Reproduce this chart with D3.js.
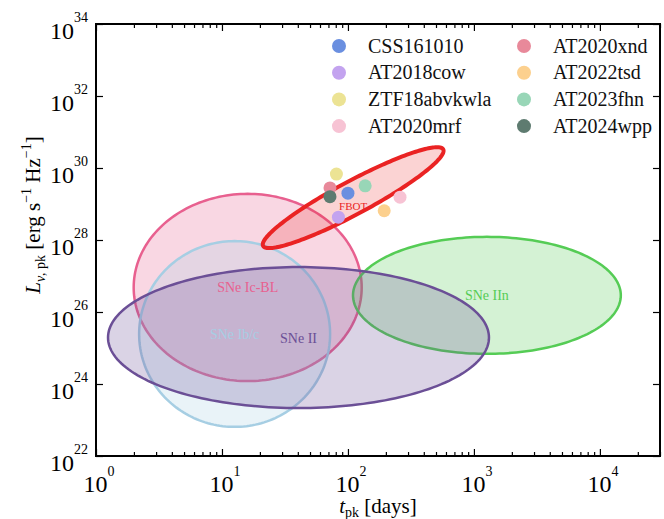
<!DOCTYPE html>
<html>
<head>
<meta charset="utf-8">
<script src="https://cdn.jsdelivr.net/npm/d3@7"></script>
<style>
body { margin: 0; background: #fff; }
svg { display: block; }
</style>
</head>
<body>
<div id="chart"></div>
<script>
// radio-bright FBOTs: peak time [days] and peak luminosity [erg/s/Hz]
var names = ["CSS161010", "AT2018cow", "ZTF18abvkwla", "AT2020mrf",
             "AT2020xnd", "AT2022tsd", "AT2023fhn", "AT2024wpp"];
var tpk = [100, 84, 81, 259, 72, 194, 137, 72];
var lpk = [2.0e29, 4.3e28, 6.8e29, 1.55e29, 2.8e29, 6.5e28, 3.2e29, 1.6e29];
var colors = ["#6a8fe0", "#c3a3ef", "#ece394", "#f7c3d4",
              "#e8899a", "#fcd08e", "#98d6b7", "#5e7b70"];

// population regions (ellipses in log-log space)
var popNames = ["SNe Ic-BL", "SNe Ib/c", "SNe IIn", "SNe II", "FBOT"];
var popT = [16, 12.6, 1268, 40.5, 110];
var popL = [4.8e26, 2.45e25, 2.9e26, 1.95e25, 1.5e29];
var popWidth = [0.905, 0.758, 1.063, 1.512, 1.556];   // semi-axis, dex
var popHeight = [2.6, 2.58, 1.625, 1.958, 0.24];      // semi-axis, dex
var popAngle = [0, 0, 0, 0, 63.9];                    // degrees
var popColors = ["#e8608f", "#a6cee3", "#55cc55", "#6b4f96", "#ea2323"];

var xTicks = [1, 10, 100, 1000, 10000];
var yTicks = [1e22, 1e24, 1e26, 1e28, 1e30, 1e32, 1e34];

var W = 664, H = 519;
var margin = {left: 96, top: 24, right: 4, bottom: 63};
var w = W - margin.left - margin.right,
    h = H - margin.top - margin.bottom;

var svg = d3.select("#chart").append("svg")
    .attr("width", W)
    .attr("height", H);
var g = svg.append("g")
    .attr("transform", "translate(" + margin.left + "," + margin.top + ")");

var x = d3.scaleLog().domain([1, 3e4]).range([0, w]);
var y = d3.scaleLog().domain([1e22, 1e34]).range([h, 0]);

// ellipses
function ellipsePath(i) {
    var cx = Math.log10(popT[i]), cy = Math.log10(popL[i]);
    var a = popWidth[i], b = popHeight[i];
    var phi = popAngle[i] * Math.PI / 180;
    var pts = d3.range(0, 201).map(function (k) {
        var th = k / 200 * 2 * Math.PI;
        var lx = cx + a * Math.cos(th) * Math.cos(phi) - b * Math.sin(th) * Math.sin(phi);
        var ly = cy + a * Math.cos(th) * Math.sin(phi) + b * Math.sin(th) * Math.cos(phi);
        return [x(Math.pow(10, lx)), y(Math.pow(10, ly))];
    });
    return d3.line()(pts) + "Z";
}

g.selectAll("path.pop")
    .data(popNames)
    .enter()
    .append("path")
    .attr("class", "pop")
    .attr("d", function (d, i) { return ellipsePath(i); })
    .attr("fill", function (d, i) { return popColors[i]; })
    .attr("fill-opacity", function (d, i) { return i == 4 ? 0.2 : 0.25; })
    .attr("stroke", function (d, i) { return popColors[i]; })
    .attr("stroke-width", function (d, i) { return i == 4 ? 4 : 2.5; });

g.selectAll("text.poplabel")
    .data(popNames)
    .enter()
    .append("text")
    .attr("class", "poplabel")
    .text(function (d) { return d; })
    .attr("text-anchor", "middle")
    .attr("x", function (d, i) { return x(popT[i]); })
    .attr("y", function (d, i) { return y(popL[i]) + (i == 4 ? 12 : 5); })
    .attr("font-size", function (d, i) { return i == 4 ? "11px" : "14px"; })
    .attr("fill", function (d, i) { return popColors[i]; });

// points
g.selectAll("circle.src")
    .data(names)
    .enter()
    .append("circle")
    .attr("class", "src")
    .attr("cx", function (d, i) { return x(tpk[i]); })
    .attr("cy", function (d, i) { return y(lpk[i]); })
    .attr("r", 6.5)
    .attr("fill", function (d, i) { return colors[i]; });

// ticks, pointing inwards on all sides
var xMinor = [];
[1, 10, 100, 1000, 10000].forEach(function (p) {
    for (var k = 2; k <= 9; k++) if (p * k <= 3e4) xMinor.push(p * k);
});

function tickAxis(axis, vals, size, tr) {
    var a = g.append("g").attr("transform", tr)
        .call(axis.tickValues(vals).tickSize(size).tickFormat(""));
    a.select(".domain").remove();
    a.selectAll("line").attr("stroke", "#000").attr("stroke-width", 1.2);
}
tickAxis(d3.axisBottom(x), xTicks, -7, "translate(0," + h + ")");
tickAxis(d3.axisBottom(x), xMinor, -4, "translate(0," + h + ")");
tickAxis(d3.axisTop(x), xTicks, -7, "translate(0,0)");
tickAxis(d3.axisTop(x), xMinor, -4, "translate(0,0)");
tickAxis(d3.axisLeft(y), yTicks, -7, "translate(0,0)");
tickAxis(d3.axisRight(y), yTicks, -7, "translate(" + w + ",0)");

g.append("rect")
    .attr("width", w)
    .attr("height", h)
    .attr("fill", "none")
    .attr("stroke", "#000")
    .attr("stroke-width", 2);

// tick labels as 10^n
g.selectAll("text.xlab")
    .data(xTicks)
    .enter()
    .append("text")
    .attr("class", "xlab")
    .attr("text-anchor", "middle")
    .attr("x", function (d) { return x(d) + 3; })
    .attr("y", h + 36)
    .attr("font-size", "24px")
    .each(function (d) {
        var t = d3.select(this);
        t.append("tspan").text("10");
        t.append("tspan").attr("dy", -16).attr("font-size", "14px")
            .text(Math.round(Math.log10(d)));
    });

g.selectAll("text.ylab")
    .data(yTicks)
    .enter()
    .append("text")
    .attr("class", "ylab")
    .attr("text-anchor", "end")
    .attr("x", -8)
    .attr("y", function (d) { return y(d) + 15; })
    .attr("font-size", "24px")
    .each(function (d) {
        var t = d3.select(this);
        t.append("tspan").text("10");
        t.append("tspan").attr("dy", -17).attr("font-size", "14px")
            .text(Math.round(Math.log10(d)));
    });

// axis titles
var xt = svg.append("text")
    .attr("text-anchor", "middle")
    .attr("x", margin.left + w / 2)
    .attr("y", 513)
    .attr("font-size", "21px");
xt.append("tspan").attr("font-style", "italic").text("t");
xt.append("tspan").attr("font-size", "14px").attr("dy", 4).text("pk");
xt.append("tspan").attr("dy", -4).text(" [days]");

var yt = svg.append("text")
    .attr("text-anchor", "middle")
    .attr("transform", "translate(40,215) rotate(-90)")
    .attr("font-size", "21px");
yt.append("tspan").attr("font-style", "italic").text("L");
yt.append("tspan").attr("font-size", "14px").attr("dy", 5).attr("font-style", "italic").text("\u03bd");
yt.append("tspan").attr("font-size", "14px").text(", pk");
yt.append("tspan").attr("dy", -5).text(" [erg s");
yt.append("tspan").attr("font-size", "14px").attr("dy", -9).text("\u22121");
yt.append("tspan").attr("dy", 9).text(" Hz");
yt.append("tspan").attr("font-size", "14px").attr("dy", -9).text("\u22121");
yt.append("tspan").attr("dy", 9).text("]");

// legend
var leg = g.append("g");
var legItems = leg.selectAll("g")
    .data(names)
    .enter()
    .append("g")
    .attr("transform", function (d, i) {
        var col = Math.floor(i / 4), row = i % 4;
        return "translate(" + (243 + col * 185) + "," + (22 + row * 26.7) + ")";
    });
legItems.append("circle")
    .attr("r", 7)
    .attr("fill", function (d, i) { return colors[i]; });
legItems.append("text")
    .attr("x", 29)
    .attr("y", 6.5)
    .attr("font-size", "20px")
    .attr("fill", "#111")
    .text(function (d) { return d; });

// serif everywhere
svg.selectAll("text").attr("font-family", "Liberation Serif");
</script>
</body>
</html>
